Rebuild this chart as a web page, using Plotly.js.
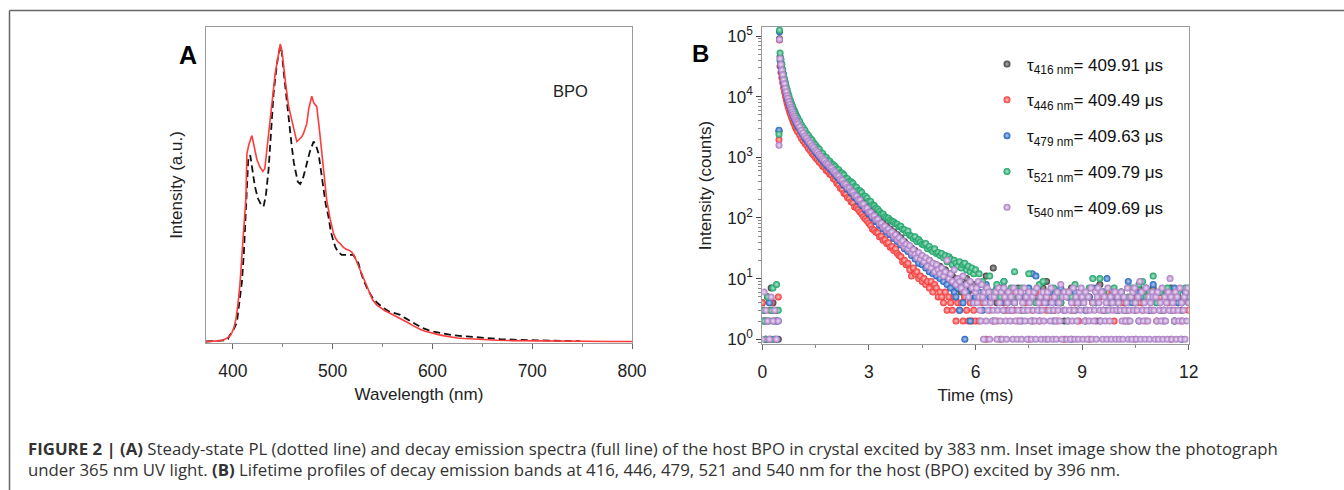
<!DOCTYPE html>
<html><head><meta charset="utf-8">
<script src="https://cdn.plot.ly/plotly-3.0.1.min.js"></script>
<style>html,body{margin:0;padding:0;background:#fff}#chart{width:1344px;height:490px}</style>
</head><body><div id="chart"></div>
<script>
// ---------- Panel A: spectra ----------
const wlDecaySpec = [373,380,386,390,394,397,399,401,403,405,407,409,411,413,414,416,419,422,424,427,430,432,434,437,440,442.4,445,447.4,448.5,450,452.4,455.7,459,462,464,466,469,471,474,476,479,481,484,487,490.8,494,497.5,499,501,503,505,507,510,513,516,519,522,525,528,531,534,537,540,544,548,552,556,560,564,568,572,576,580,584,588,592,596,601,606,612,618,625,632,640,651,665,680,700,720,750,780,800];
const intDecaySpec = [0.000,0.001,0.002,0.005,0.011,0.019,0.030,0.046,0.075,0.125,0.190,0.290,0.390,0.480,0.630,0.660,0.690,0.645,0.610,0.585,0.570,0.580,0.640,0.740,0.840,0.900,0.950,0.997,0.985,0.950,0.876,0.790,0.742,0.700,0.670,0.676,0.686,0.700,0.730,0.780,0.822,0.800,0.787,0.700,0.575,0.474,0.410,0.385,0.360,0.345,0.335,0.330,0.318,0.310,0.307,0.300,0.285,0.260,0.235,0.210,0.185,0.160,0.140,0.123,0.112,0.104,0.097,0.090,0.084,0.078,0.071,0.062,0.054,0.046,0.040,0.035,0.031,0.027,0.023,0.019,0.015,0.012,0.010,0.008,0.006,0.004,0.003,0.002,0.001,0.001,0.000,0.000];
const wlPL = [373,385,392,395,397,400,402,404,406,408,409,411,412.3,414,415.3,417.3,419,422,425,428,430.7,433,435.7,438,440.7,443,445,447.4,449,451,454,456,459,461,463,465,467.4,470,472,474,477,480.8,483,485.8,488,490.8,493,495.8,498,500,502.5,505,509,515,520.8,523,525.8,528,530.8,535,539,545,551,557,562,567.7,572,578,584,590,596,601,610,620,634,650,668,690,718,748];
const intPL = [0.000,0.001,0.004,0.008,0.022,0.035,0.050,0.065,0.120,0.170,0.200,0.300,0.385,0.474,0.608,0.625,0.580,0.520,0.480,0.460,0.452,0.490,0.575,0.700,0.830,0.900,0.950,0.990,0.970,0.900,0.800,0.730,0.653,0.600,0.560,0.535,0.528,0.545,0.570,0.597,0.635,0.670,0.660,0.630,0.580,0.519,0.460,0.418,0.370,0.345,0.318,0.302,0.290,0.290,0.290,0.277,0.262,0.235,0.207,0.175,0.151,0.128,0.112,0.100,0.094,0.089,0.080,0.068,0.056,0.045,0.038,0.033,0.027,0.021,0.017,0.012,0.008,0.005,0.003,0.001];

// ---------- Panel B: decay profiles ----------
const timeDecay = [0,0.05,0.1,0.15,0.2,0.25,0.3,0.35,0.4,0.45,0.47,0.485,
0.5,0.525,0.55,0.575,0.6,0.625,0.65,0.675,0.7,0.725,0.75,0.775,0.8,0.825,0.85,0.875,0.9,0.925,0.95,0.975,1,
1.05,1.1,1.15,1.2,1.25,1.3,1.35,1.4,1.45,1.5,
1.55,1.6,1.65,1.7,1.75,1.8,1.85,1.9,1.95,2,
2.05,2.1,2.15,2.2,2.25,2.3,2.35,2.4,2.45,2.5,
2.55,2.6,2.65,2.7,2.75,2.8,2.85,2.9,2.95,3,
3.05,3.1,3.15,3.2,3.25,3.3,3.35,3.4,3.45,3.5,
3.55,3.6,3.65,3.7,3.75,3.8,3.85,3.9,3.95,4,
4.05,4.1,4.15,4.2,4.25,4.3,4.35,4.4,4.45,4.5,
4.55,4.6,4.65,4.7,4.75,4.8,4.85,4.9,4.95,5,
5.05,5.1,5.15,5.2,5.25,5.3,5.35,5.4,5.45,5.5,
5.55,5.6,5.65,5.7,5.75,5.8,5.85,5.9,5.95,6];
const timeTail = [6.1,6.2,6.3,6.4,6.5,6.6,6.7,6.8,6.9,7,
7.1,7.2,7.3,7.4,7.5,7.6,7.7,7.8,7.9,8,
8.1,8.2,8.3,8.4,8.5,8.6,8.7,8.8,8.9,9,
9.1,9.2,9.3,9.4,9.5,9.6,9.7,9.8,9.9,10,
10.1,10.2,10.3,10.4,10.5,10.6,10.7,10.8,10.9,11,
11.1,11.2,11.3,11.4,11.5,11.6,11.7,11.8,11.9,12];
const timeTailFine = [6.025,6.05,6.075,6.1,6.125,6.15,6.175,6.2,6.225,6.25,6.275,6.3,6.325,6.35,6.375,6.4,6.425,6.45,6.475,6.5,
6.525,6.55,6.575,6.6,6.625,6.65,6.675,6.7,6.725,6.75,6.775,6.8,6.825,6.85,6.875,6.9,6.925,6.95,6.975,7,
7.025,7.05,7.075,7.1,7.125,7.15,7.175,7.2,7.225,7.25,7.275,7.3,7.325,7.35,7.375,7.4,7.425,7.45,7.475,7.5,
7.525,7.55,7.575,7.6,7.625,7.65,7.675,7.7,7.725,7.75,7.775,7.8,7.825,7.85,7.875,7.9,7.925,7.95,7.975,8,
8.025,8.05,8.075,8.1,8.125,8.15,8.175,8.2,8.225,8.25,8.275,8.3,8.325,8.35,8.375,8.4,8.425,8.45,8.475,8.5,
8.525,8.55,8.575,8.6,8.625,8.65,8.675,8.7,8.725,8.75,8.775,8.8,8.825,8.85,8.875,8.9,8.925,8.95,8.975,9,
9.025,9.05,9.075,9.1,9.125,9.15,9.175,9.2,9.225,9.25,9.275,9.3,9.325,9.35,9.375,9.4,9.425,9.45,9.475,9.5,
9.525,9.55,9.575,9.6,9.625,9.65,9.675,9.7,9.725,9.75,9.775,9.8,9.825,9.85,9.875,9.9,9.925,9.95,9.975,10,
10.025,10.05,10.075,10.1,10.125,10.15,10.175,10.2,10.225,10.25,10.275,10.3,10.325,10.35,10.375,10.4,10.425,10.45,10.475,10.5,
10.525,10.55,10.575,10.6,10.625,10.65,10.675,10.7,10.725,10.75,10.775,10.8,10.825,10.85,10.875,10.9,10.925,10.95,10.975,11,
11.025,11.05,11.075,11.1,11.125,11.15,11.175,11.2,11.225,11.25,11.275,11.3,11.325,11.35,11.375,11.4,11.425,11.45,11.475,11.5,
11.525,11.55,11.575,11.6,11.625,11.65,11.675,11.7,11.725,11.75,11.775,11.8,11.825,11.85,11.875,11.9,11.925,11.95,11.975,12];

// 416 nm (black)
const c416Decay = [4,3,2,5,1,7,4,3,2,1, 2700, 90000,
45600,36400,29400,24600,20300,17500,14700,12950,11150,10050,8900,7980,7210,6630,6010,5510,5100,4740,4350,4090,3790,
3360,3040,2670,2440,2190,2030,1820,1690,1515,1420,
1290,1210,1085,1030,935,878,805,764,700,660,
594,568,511,484,434,413,369,356,319,310,
275,265,234,226,202,194,170,166,146,143,
124,123,108,107,94,93,82,81,72,73,
64,66,57,59,51,53,45,47,40,41,
34,36,30,32,26,29,23,26,20,23,
18,21,17,20,15,18,14,17,12,16,
13,11,14,10,12,9,11,8,10,7,
9,6,8,5,10,6,7,4,8,5];
const c416Tail = [8,5,11,6,15,4,7,3,6,5, 4,7,3,5,6,2,5,4,7,9, 5,3,6,4,2,5,7,3,4,6, 2,5,4,7,8,3,6,4,5,3, 6,4,2,5,3,7,4,6,3,7, 5,3,6,4,7,2,5,3,6,4];
// 446 nm (red)
const c446Decay = [4,2,1,5,3,4,2,1,3,5, 1950, 86000,
31700,25000,20500,16900,14200,11950,10300,8870,7800,6880,6190,5470,5040,4550,4190,3780,3570,3220,3040,2800,2650,
2360,2070,1880,1685,1560,1400,1300,1165,1080,985,
925,840,790,712,684,605,583,528,509,448,
425,372,352,309,294,256,246,218,209,186,
178,152,149,138,126,116,105,97,90,82,
75,66,63,58,57,49,50,43,44,38,
39,33,34,29,31,26,24,23,19,20,
17,18,14,11,15,12,13,10,11,9,
10,8,9,7,9,6,8,7,5,6,
5,4,6,3,5,4,3,5,2,4,
3,4,2,5,3,2,4,2,3,2];
const c446Tail = [2,4,1,3,5,2,1,4,3,6, 3,2,5,4,1,3,6,2,4,3, 5,3,2,4,1,6,3,4,2,5, 3,1,4,2,5,3,6,4,2,3, 4,2,3,5,1,4,3,2,6,3, 2,5,3,4,1,3,4,2,5,3];
// 479 nm (blue)
const c479Decay = [2,3,1,2,4,1,3,2,1,2, 2800, 118000,
39650,31700,25600,21400,17700,15200,12850,11300,9720,8750,7740,6950,6280,5770,5240,4800,4450,4130,3790,3560,3300,
2960,2600,2350,2090,1935,1740,1610,1445,1340,1215,
1140,1030,960,880,826,748,712,650,621,560,
530,480,456,409,389,347,331,298,289,259,
249,220,212,188,184,161,157,136,134,116,
115,100,101,87,88,75,76,66,68,58,
61,53,55,46,49,41,44,36,39,31,
34,28,31,24,27,21,24,18,22,17,
19,15,18,13,16,12,15,11,14,10,
12,9,11,8,10,7,9,6,5,7,
3,8,4,1,6,5,2,7,4,5];
const c479Tail = [6,3,8,5,2,7,4,9,5,3, 4,6,2,5,7,12,11,3,5,4, 6,2,4,7,3,5,1,6,4,5, 3,5,7,4,2,6,10,4,5,3, 5,3,9,4,6,2,5,7,3,8, 4,6,2,5,3,7,4,1,6,5];
// 521 nm (green)
const c521Decay = [3,2,1,5,2,3,7,1,8,3, 2400, 125000,
52600,41500,34100,28000,23600,19800,17100,14700,12950,11400,10300,9080,8360,7540,6950,6280,5910,5460,5040,4650,4390,
3930,3420,3110,2790,2470,2300,2060,1930,1720,1600,
1450,1370,1215,1160,1030,990,896,862,780,752,
705,642,625,560,548,509,452,445,404,396,
372,330,322,284,281,262,231,229,214,188,
187,165,160,146,139,128,117,116,105,101,
99,92,88,86,80,79,72,73,65,64,
57,61,52,50,46,49,41,44,40,37,
36,38,31,34,30,28,31,26,27,24,
26,22,24,19,23,21,17,20,18,16,
19,15,17,18,14,16,13,15,12,14];
const c521Tail = [12,9,7,11,6,8,5,9,4,7, 13,5,7,3,12,6,4,8,9,5, 3,7,5,4,6,2,5,8,4,6, 5,7,10,4,10,6,3,5,7,4, 6,3,5,7,4,8,9,5,6,11, 4,6,3,7,5,2,6,4,7,7];
// 540 nm (purple)
const c540Decay = [1,6,3,2,1,5,2,3,1,2, 1580, 88000,
42500,34000,27400,23000,18950,16300,13750,12100,10400,9380,8290,7450,6720,6190,5600,5150,4760,4430,4060,3820,3530,
3180,2790,2530,2250,2080,1870,1730,1555,1440,1305,
1225,1110,1035,945,890,805,768,699,668,602,
570,516,492,440,418,372,358,320,311,279,
268,237,229,201,198,172,169,146,145,126,
124,108,109,94,95,81,82,71,73,63,
66,57,59,50,53,44,47,39,42,34,
37,31,35,27,30,25,22,27,21,24,
19,22,16,20,15,18,13,17,14,12,
15,11,13,20,10,12,9,14,8,10,
9,7,11,6,8,5,9,7,4,6];
const c540Tail = [7,4,9,5,3,2,8,5,1,6,4,2,7,3,6,1,4,5,2,3,
5,2,6,1,3,7,4,2,6,1,3,7,5,2,1,4,6,3,2,5,
3,1,7,4,2,6,1,3,5,2,6,1,4,3,7,2,5,1,3,6,
4,2,1,5,3,6,2,1,7,3,4,2,5,1,3,6,2,4,1,5,
6,1,3,2,7,4,1,3,5,2,1,6,3,4,2,8,1,5,3,6,
3,5,1,2,6,3,1,4,2,7,3,1,5,2,4,1,6,3,7,5,
1,4,2,6,3,1,5,2,3,7,1,4,2,3,6,1,5,7,4,3,
2,6,1,3,5,2,4,1,7,3,2,5,1,4,3,6,6,1,3,5,
4,1,3,6,2,1,5,3,2,4,7,1,3,2,5,1,6,3,7,4,
1,3,5,2,9,1,6,3,2,4,1,7,3,2,5,1,4,3,6,5,
3,1,5,2,6,1,3,4,2,7,1,3,5,2,4,1,6,3,10,5,
1,4,3,2,6,1,5,3,2,7,1,4,2,3,5,1,6,2,7,4];

const seriesNames = ['τ<sub>416 nm</sub>= 409.91 μs','τ<sub>446 nm</sub>= 409.49 μs','τ<sub>479 nm</sub>= 409.63 μs','τ<sub>521 nm</sub>= 409.79 μs','τ<sub>540 nm</sub>= 409.69 μs'];
const seriesColors = ['#3c3c3c','#f23434','#1f5fbf','#14a064','#a878c2'];
const seriesCenters = ['#b4b4b4','#ffc4c4','#b6cdf0','#b4e6cc','#eee2f4'];

const FONT = 'Arial, "Liberation Sans", sans-serif';
const CAPTION_FONT = '"Open Sans", Arial, sans-serif';
const decays = [c416Decay,c446Decay,c479Decay,c521Decay,c540Decay];
const tails = [c416Tail,c446Tail,c479Tail,c521Tail,c540Tail];
const tailTimes = [timeTail,timeTail,timeTail,timeTail,timeTailFine];

const traces = [
  {x: wlPL, y: intPL, type:'scatter', mode:'lines', line:{color:'#111', width:1.8, dash:'7px,4px'}, xaxis:'x', yaxis:'y', showlegend:false, name:'Steady-state PL'},
  {x: wlDecaySpec, y: intDecaySpec, type:'scatter', mode:'lines', line:{color:'#ff3b3b', width:1.6}, xaxis:'x', yaxis:'y', showlegend:false, name:'Decay emission'}
];
for (let i = 0; i < 5; i++) {
  traces.push({
    x: timeDecay.concat(tailTimes[i]), y: decays[i].concat(tails[i]),
    type:'scatter', mode:'markers', xaxis:'x2', yaxis:'y2',
    name: seriesNames[i], legendgroup:'g'+i,
    marker:{size:7, color:seriesColors[i], gradient:{type:'radial', color:seriesCenters[i]}, line:{width:0}}
  });
}

const axisCommon = {showline:true, mirror:true, linecolor:'#9a9a9a', linewidth:1, showgrid:false, zeroline:false,
  tickfont:{family:FONT, size:17.5, color:'#222'}};
const titleFont = {family:FONT, size:17, color:'#222'};
const layout = {
  width:1344, height:490, margin:{l:0,r:0,t:0,b:0}, paper_bgcolor:'#fff', plot_bgcolor:'#fff',
  font:{family:FONT, color:'#222'}, hovermode:false,
  xaxis: Object.assign({}, axisCommon, {domain:[206/1344, 632/1344], range:[373,800], anchor:'y',
    tickmode:'linear', tick0:400, dtick:100, ticks:'outside', ticklen:5, tickcolor:'#666', ticklabelstandoff:7,
    minor:{ticks:'outside', ticklen:3, dtick:50, tick0:400, tickcolor:'#888'},
    title:{text:'Wavelength (nm)', font:titleFont, standoff:8}}),
  yaxis: Object.assign({}, axisCommon, {domain:[1-343/490, 1-27/490], range:[-0.005,1.054], anchor:'x',
    showticklabels:false, ticks:'',
    title:{text:'Intensity (a.u.)', font:titleFont, standoff:18}}),
  xaxis2: Object.assign({}, axisCommon, {domain:[762.3/1344, 1188.7/1344], range:[0,12], anchor:'y2',
    tickmode:'linear', tick0:0, dtick:3, ticks:'outside', ticklen:5, tickcolor:'#666', ticklabelstandoff:7,
    minor:{ticks:'outside', ticklen:3, dtick:1.5, tick0:0, tickcolor:'#888'},
    title:{text:'Time (ms)', font:titleFont, standoff:8}}),
  yaxis2: Object.assign({}, axisCommon, {domain:[1-344/490, 1-27/490], type:'log', range:[-0.078,5.149], anchor:'x2',
    tickmode:'array', tickvals:[1,10,100,1000,10000,100000],
    ticktext:['10<sup>0</sup>','10<sup>1</sup>','10<sup>2</sup>','10<sup>3</sup>','10<sup>4</sup>','10<sup>5</sup>'],
    ticks:'outside', ticklen:5, tickcolor:'#444', tickfont:{family:FONT, size:17, color:'#222'},
    minor:{ticks:'outside', ticklen:3, dtick:'D1', tickcolor:'#888'},
    title:{text:'Intensity (counts)', font:titleFont, standoff:11}}),
  legend:{x:987/1344, xanchor:'left', y:1-46.5/490, yanchor:'top', bgcolor:'rgba(0,0,0,0)', borderwidth:0,
    font:{family:FONT, size:17, color:'#111'}, tracegroupgap:10.7, itemclick:false},
  annotations:[
    {text:'<b>A</b>', x:177/1344, y:1-39/490, xref:'paper', yref:'paper', showarrow:false, font:{family:FONT, size:25, color:'#000'}},
    {text:'<b>B</b>', x:700/1344, y:1-38/490, xref:'paper', yref:'paper', showarrow:false, font:{family:FONT, size:24, color:'#000'}},
    {text:'BPO', x:570/1344, y:1-80/490, xref:'paper', yref:'paper', showarrow:false, font:{family:FONT, size:16.5, color:'#222'}},
    {text:'<b>FIGURE 2 | (A)</b> Steady-state PL (dotted line) and decay emission spectra (full line) of the host BPO in crystal excited by 383 nm. Inset image show the photograph',
     x:26/1344, y:1-448.6/490, xref:'paper', yref:'paper', xanchor:'left', yanchor:'middle', showarrow:false, font:{family:CAPTION_FONT, size:16.8, color:'#333'}},
    {text:'under 365 nm UV light. <b>(B)</b> Lifetime profiles of decay emission bands at 416, 446, 479, 521 and 540 nm for the host (BPO) excited by 396 nm.',
     x:26/1344, y:1-469.6/490, xref:'paper', yref:'paper', xanchor:'left', yanchor:'middle', showarrow:false, font:{family:CAPTION_FONT, size:16.8, color:'#333'}}
  ],
  shapes:[
    {type:'line', xref:'paper', yref:'paper', x0:9.5/1344, x1:1.01, y0:1-10.5/490, y1:1-10.5/490, line:{color:'#666', width:1.5}},
    {type:'line', xref:'paper', yref:'paper', x0:9.5/1344, x1:9.5/1344, y0:1-10.5/490, y1:-0.01, line:{color:'#666', width:1.5}}
  ]
};
Plotly.newPlot('chart', traces, layout, {displayModeBar:false, staticPlot:true});
</script>
</body></html>
